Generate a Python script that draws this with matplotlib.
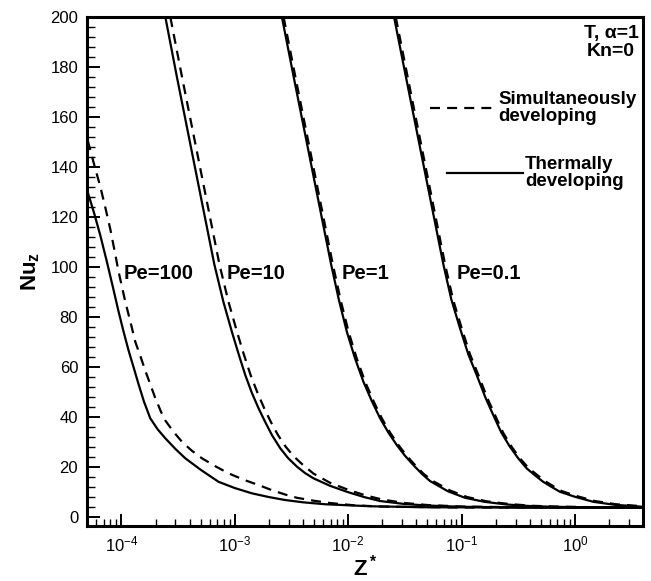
import numpy as np
import matplotlib
matplotlib.use("Agg")
import matplotlib.pyplot as plt
from matplotlib.ticker import LogLocator, MultipleLocator, FuncFormatter, NullFormatter

plt.rcParams['font.family'] = ['Liberation Sans', 'DejaVu Sans']
plt.rcParams['mathtext.fontset'] = 'custom'
plt.rcParams['mathtext.rm'] = 'Liberation Sans'
plt.rcParams['mathtext.it'] = 'Liberation Sans:italic'
plt.rcParams['mathtext.bf'] = 'Liberation Sans:bold'

# Local Nusselt number vs dimensionless axial distance Z* (given as log10 Z*)
# "th" = thermally developing, "sim" = simultaneously developing
logz_pe100_th = [-4.297, -4.24, -4.185, -4.13, -4.075, -4.024, -3.98, -3.936, -3.89,
                 -3.848, -3.80, -3.745, -3.68, -3.612, -3.52, -3.436, -3.30, -3.143,
                 -3.0, -2.85, -2.70, -2.555, -2.40, -2.20, -1.80, -1.30, 0.60]
nu_pe100_th = [130, 121.5, 112.5, 102.5, 92, 82, 74, 66.5, 59.5,
               53, 46, 39.4, 35, 31.4, 27, 23.4, 18.8, 14,
               11.5, 9.4, 7.9, 6.7, 5.8, 5.0, 4.2, 3.8, 3.66]

logz_pe100_sim = [-4.297, -4.24, -4.185, -4.14, -4.097, -4.06, -4.024, -3.965, -3.92,
                  -3.877, -3.83, -3.789, -3.745, -3.70, -3.65, -3.612, -3.54, -3.465,
                  -3.38, -3.289, -3.17, -3.055, -2.92, -2.79, -2.67, -2.555, -2.452,
                  -2.30, -2.159, -1.95, -1.718, -1.0, 0.60]
nu_pe100_sim = [150.7, 141, 132, 123.5, 115, 106.5, 98, 86, 78,
                70, 64, 58.5, 53, 47.4, 42, 38.5, 34, 30,
                26.5, 23.4, 20.2, 17.4, 14.8, 12.7, 10.6, 8.9, 7.6,
                6.4, 5.5, 4.6, 4.1, 3.7, 3.66]

logz_pe10_th = [-3.612, -3.51, -3.40, -3.29, -3.18, -3.10, -3.025, -2.965, -2.907,
                -2.85, -2.79, -2.73, -2.672, -2.60, -2.53, -2.45, -2.38, -2.306,
                -2.16, -2.011, -1.86, -1.718, -1.50, -1.30, -1.0, -0.5, 0.60]
nu_pe10_th = [200, 176, 151, 126, 101, 86, 74, 65, 56.7,
              49.7, 43.4, 37.8, 32.7, 27.5, 23.5, 20.0, 17.5, 15.4,
              12.4, 10, 7.9, 6.3, 5.1, 4.5, 4.0, 3.75, 3.66]

logz_pe10_sim = [-3.568, -3.465, -3.355, -3.245, -3.135, -3.055, -2.98, -2.92, -2.86,
                 -2.80, -2.74, -2.68, -2.62, -2.55, -2.48, -2.40, -2.306, -2.16,
                 -2.0, -1.85, -1.70, -1.50, -1.30, -1.0, -0.5, 0.60]
nu_pe10_sim = [200, 176, 151, 126, 101, 86, 74, 65, 56.7,
               49.7, 43.4, 37.8, 32.8, 28, 24.2, 20.8, 17.3, 13.6,
               10.8, 8.6, 6.9, 5.5, 4.7, 4.1, 3.8, 3.66]

logz_pe1_th = [-2.584, -2.48, -2.37, -2.26, -2.15, -2.08, -2.011, -1.94, -1.865,
               -1.79, -1.718, -1.645, -1.571, -1.50, -1.425, -1.35, -1.278, -1.12,
               -0.969, -0.80, -0.60, -0.40, -0.20, 0.20, 0.60]
nu_pe1_th = [200, 176, 151, 126, 101, 86.5, 74, 63.5, 54,
             46.2, 39.4, 33.7, 28.7, 24.5, 20.7, 17.2, 14.3, 10.2,
             7.6, 6.0, 4.9, 4.3, 4.0, 3.75, 3.66]

logz_pe1_sim = [-2.569, -2.465, -2.355, -2.245, -2.135, -2.065, -1.996, -1.925, -1.85,
                -1.775, -1.703, -1.63, -1.556, -1.485, -1.41, -1.335, -1.26, -1.10,
                -0.95, -0.78, -0.58, -0.38, -0.18, 0.20, 0.60]
nu_pe1_sim = [200, 176, 151, 126, 101, 86.5, 74, 63.5, 54,
              46.2, 39.4, 33.7, 28.7, 24.5, 20.7, 17.2, 14.5, 10.5,
              7.9, 6.2, 5.1, 4.4, 4.1, 3.8, 3.7]

logz_pe01_th = [-1.595, -1.49, -1.38, -1.27, -1.16, -1.09, -1.013, -0.94, -0.866,
                -0.79, -0.72, -0.65, -0.573, -0.50, -0.426, -0.35, -0.28, -0.20,
                -0.132, 0.0, 0.161, 0.35, 0.60]
nu_pe01_th = [200, 176, 151, 126, 101, 87, 75.4, 65, 56.7,
              47.8, 40.7, 33.8, 28, 23.4, 19.4, 16.5, 14, 11.8,
              10, 8.0, 6, 4.8, 4.0]

logz_pe01_sim = [-1.58, -1.475, -1.365, -1.255, -1.145, -1.075, -0.998, -0.925, -0.851,
                 -0.775, -0.705, -0.635, -0.558, -0.485, -0.411, -0.335, -0.265, -0.185,
                 -0.117, 0.015, 0.176, 0.365, 0.60]
nu_pe01_sim = [200, 176, 151, 126, 101, 87, 75.4, 65, 56.7,
               47.8, 40.7, 33.8, 28, 23.4, 19.6, 16.8, 14.3, 12.1,
               10.3, 8.3, 6.3, 5.0, 4.2]

pe_labels = ["Pe=100", "Pe=10", "Pe=1", "Pe=0.1"]

fig = plt.figure(figsize=(6.51, 5.81), dpi=100)
ax = fig.add_axes([0.134, 0.0955, 0.854, 0.875])

lw = 1.6
dash = (4.5, 3.2)
solid_sets = [(logz_pe100_th, nu_pe100_th), (logz_pe10_th, nu_pe10_th),
              (logz_pe1_th, nu_pe1_th), (logz_pe01_th, nu_pe01_th)]
dashed_sets = [(logz_pe100_sim, nu_pe100_sim), (logz_pe10_sim, nu_pe10_sim),
               (logz_pe1_sim, nu_pe1_sim), (logz_pe01_sim, nu_pe01_sim)]
for lz, nu in solid_sets:
    ax.plot(10 ** np.asarray(lz), nu, color='black', lw=lw)
for lz, nu in dashed_sets:
    ax.plot(10 ** np.asarray(lz), nu, color='black', lw=lw, linestyle=(0, dash))

ax.set_xscale('log')
ax.set_xlim(5e-5, 4.0)
ax.set_ylim(-3.5, 200)

ax.xaxis.set_major_locator(LogLocator(base=10, numticks=20))
ax.xaxis.set_minor_locator(LogLocator(base=10, subs=np.arange(2, 10), numticks=20))
ax.xaxis.set_major_formatter(FuncFormatter(
    lambda v, p: r'$\mathregular{10^{%d}}$' % int(round(np.log10(v)))))
ax.xaxis.set_minor_formatter(NullFormatter())
ax.yaxis.set_major_locator(MultipleLocator(20))
ax.yaxis.set_minor_locator(MultipleLocator(4))

ax.tick_params(which='both', direction='in', top=False, right=False, labelsize=12)
ax.tick_params(which='major', length=8.5, width=1.4, pad=6.5)
ax.tick_params(which='minor', length=5, width=1.0)
ax.tick_params(axis='y', which='major', length=9)
ax.tick_params(axis='y', which='minor', length=5.5)
for s in ax.spines.values():
    s.set_linewidth(2.2)

ax.set_ylabel(r'$\mathbf{Nu_z}$', fontsize=16, labelpad=6)
ax.set_xlabel(r'$\mathbf{Z^*}$', fontsize=16, labelpad=0)

# Curve labels
label_x = [0.0647, 0.2507, 0.4576, 0.6644]
for lab, lx in zip(pe_labels, label_x):
    ax.text(lx, 0.4966, lab, transform=ax.transAxes, fontsize=14.5,
            fontweight='bold', ha='left', va='center')

# Line-type key
ax.plot([0.617, 0.730], [0.8205, 0.8205], transform=ax.transAxes,
        color='black', lw=lw, linestyle=(0, dash))
ax.text(0.739, 0.8205, "Simultaneously\ndeveloping", transform=ax.transAxes,
        fontsize=13.5, fontweight='bold', ha='left', va='center', linespacing=1.0)
ax.plot([0.647, 0.784], [0.6926, 0.6926], transform=ax.transAxes,
        color='black', lw=lw)
ax.text(0.787, 0.6926, "Thermally\ndeveloping", transform=ax.transAxes,
        fontsize=13.5, fontweight='bold', ha='left', va='center', linespacing=1.0)

ax.text(0.942, 0.950, "T, α=1\nKn=0", transform=ax.transAxes,
        fontsize=14, fontweight='bold', ha='center', va='center',
        multialignment='center', linespacing=1.05)

fig.savefig("out.png", dpi=100)
